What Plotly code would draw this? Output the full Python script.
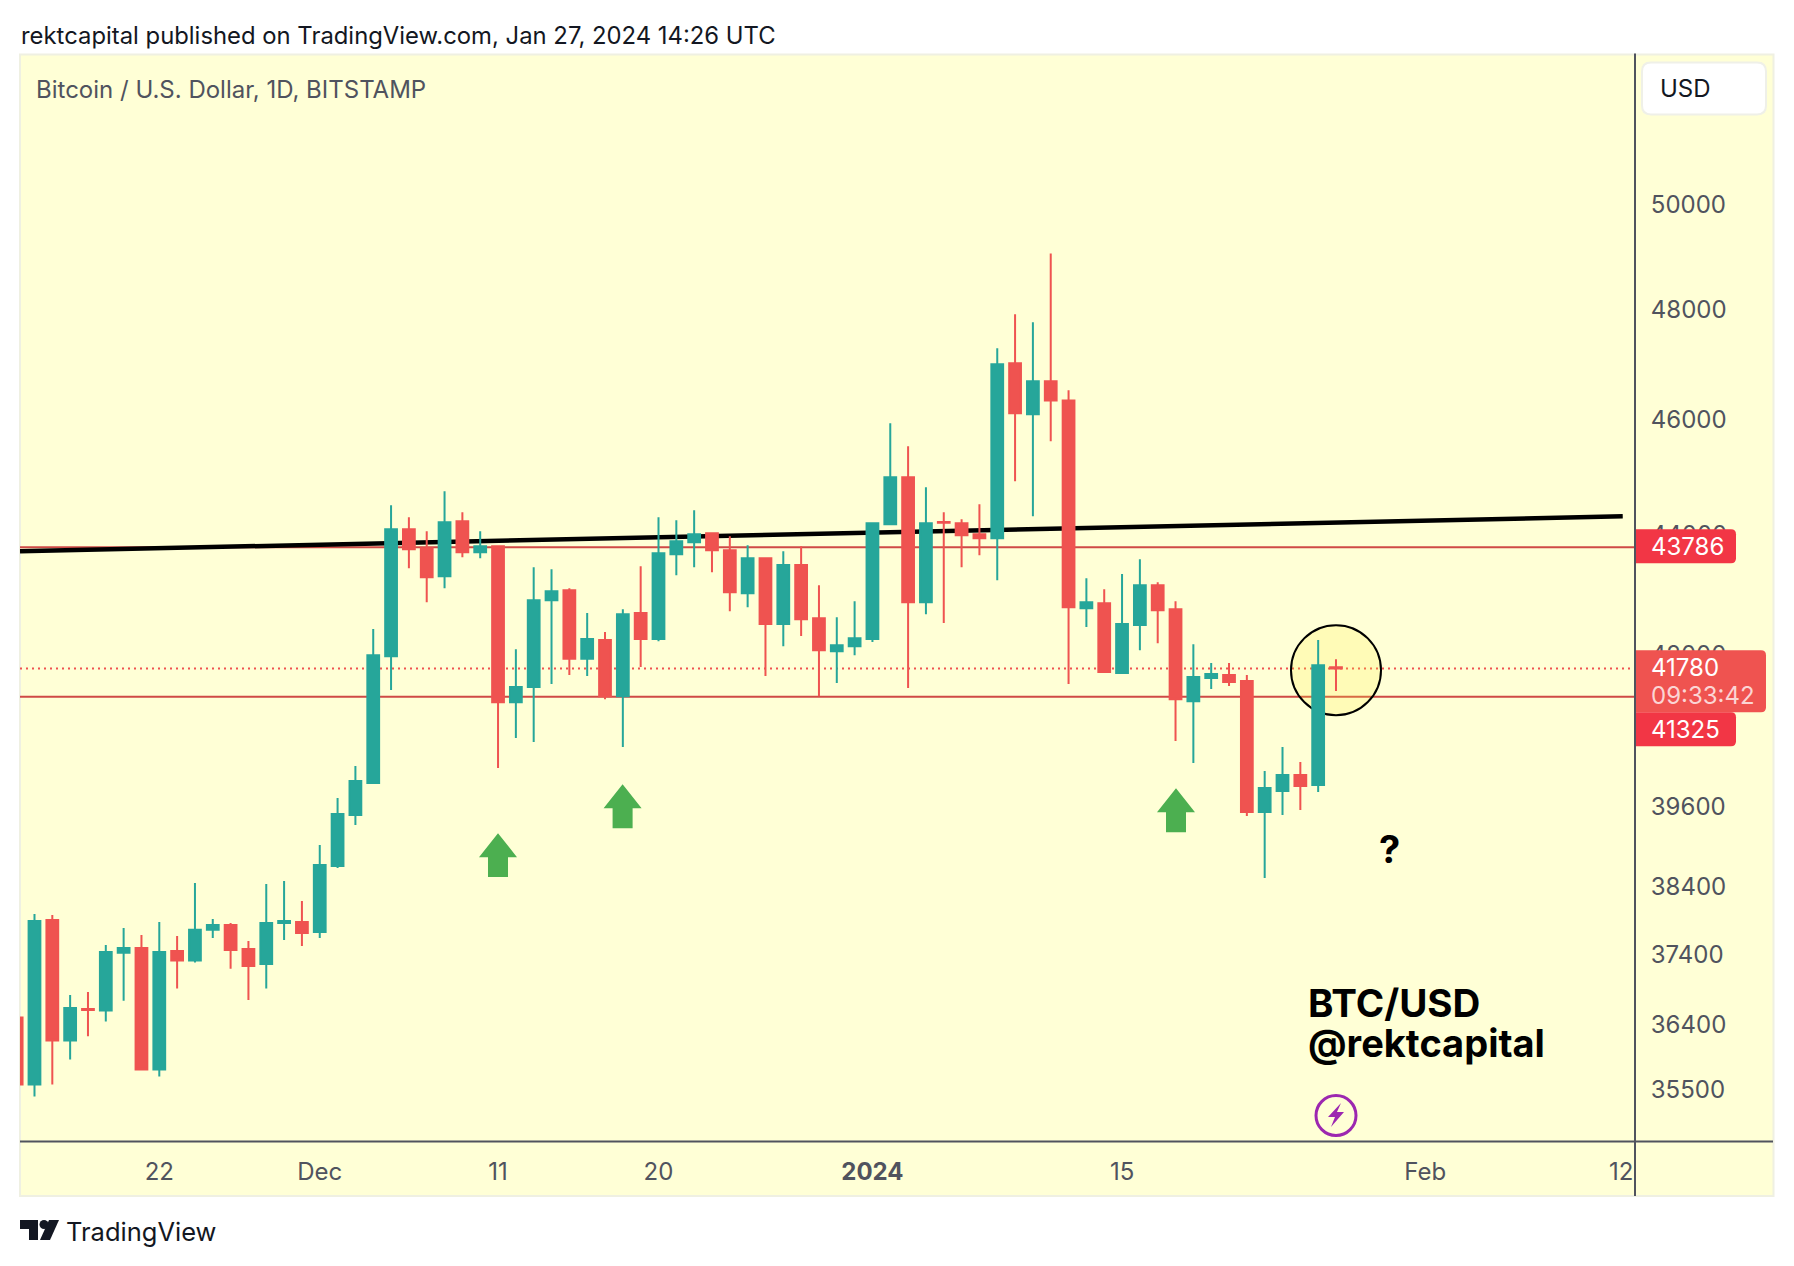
import pandas as pd
import plotly.graph_objects as go

# ---- datos de las velas (BTC/USD diario) ----
dates = pd.date_range("2023-11-14", periods=75, freq="D")

opens = [36504, 35570, 37909, 36180, 36625, 36602, 37431, 37499, 35777, 37456, 37317, 37763, 37835, 37485, 37269, 37865, 37879,
         37733, 38708, 39479, 39971, 41980, 44094, 43770, 43300, 44231, 43702, 43804, 41240, 41481, 42898, 43066, 41937, 42242,
         41336, 42685, 42258, 43669, 43872, 44026, 43736, 43015, 43602, 42504, 43485, 42602, 42061, 42143, 42258, 44180, 44989,
         42865, 44215, 44197, 44009, 43941, 47016, 46098, 46690, 46346, 42767, 42849, 41707, 42488, 43149, 42750, 41256, 41627,
         41675, 41578, 39525, 39847, 40095, 39940, 41800]
highs = [36612, 37996, 37981, 36825, 36868, 37543, 37792, 37689, 37879, 37675, 38455, 37923, 37865, 37602, 38440, 38485, 38186,
         39023, 39738, 40234, 42422, 44504, 44299, 44060, 44746, 44384, 44060, 43804, 42093, 43451, 43417, 43099, 42685, 42373,
         42750, 43468, 44299, 44248, 44418, 44043, 43975, 43821, 43619, 43719, 43804, 43149, 42619, 42882, 44214, 45938, 45530,
         44816, 44384, 44265, 44521, 47288, 47914, 47767, 49057, 46527, 43266, 43082, 43334, 43585, 43199, 42882, 42176, 41868,
         41868, 41675, 40157, 40529, 40296, 42242, 41932]
lows = [35497, 35405, 35570, 35915, 36240, 36447, 36743, 35777, 35680, 36915, 37288, 37645, 37198, 36753, 36915, 37616, 37528,
        37645, 38678, 39327, 39971, 41433, 43434, 42865, 43099, 43619, 43602, 40203, 40672, 40608, 41530, 41675, 41659, 41288,
        40529, 41803, 42225, 43317, 43451, 43367, 42717, 42783, 41659, 42143, 42307, 41336, 41546, 41997, 42209, 44180, 41465,
        42668, 42521, 43451, 43652, 43233, 44920, 44316, 45619, 41530, 42455, 41723, 41691, 42077, 42192, 40624, 40280, 41449,
        41497, 39464, 38529, 39479, 39555, 39831, 41417]
closes = [35570, 37894, 36180, 36640, 36610, 37441, 37499, 35777, 37441, 37317, 37763, 37835, 37470, 37240, 37865, 37894, 37718,
          38723, 39494, 40002, 41997, 44094, 43753, 43283, 44214, 43702, 43804, 41240, 41481, 42898, 43049, 41937, 42258, 41336,
          42668, 42258, 43686, 43889, 44009, 43736, 43032, 43602, 42504, 43485, 42586, 42077, 42159, 42274, 44197, 44989, 42865,
          44197, 44205, 43992, 43941, 46998, 46115, 46690, 46346, 42783, 42865, 41723, 42504, 43149, 42734, 41288, 41643, 41691,
          41562, 39525, 39893, 40095, 39924, 41835, 41780]

y_ticks = [50000, 48000, 46000, 44000, 42000, 39600, 38400, 37400, 36400, 35500]
x_tick_dates = ["2023-11-22", "2023-12-01", "2023-12-11", "2023-12-20", "2024-01-01", "2024-01-15", "2024-02-01", "2024-02-12"]
x_tick_text = ["22", "Dec", "11", "20", "<b>2024</b>", "15", "Feb", "12"]

level_top = 43786
level_bottom = 41325
last_price = 41780
trend_dates = ["2023-11-14 04:30", "2024-02-12 02:00"]
trend_prices = [43719, 44313]

FONT = "Inter"
GRIS = "#50535E"
NEGRO = "#131722"
ROJO_LINEA = "#CF4A46"

# area del grafico en pixeles de la imagen
L, R, T, B = 20, 1635, 53.5, 1141
BODY = 8  # margen del body de la pagina
W, H = 1794 - BODY, 1266 - BODY


def px(x):
    return (x - L) / (R - L)


def py(y):
    return 1 - (y - T) / (B - T)


def poligono(puntos, color):
    d = "M " + " L ".join(f"{px(x):.5f},{py(y):.5f}" for x, y in puntos) + " Z"
    return dict(type="path", path=d, xref="paper", yref="paper", fillcolor=color, line=dict(width=0), layer="above")


def etiqueta(x0, y0, x1, y1, color):
    # etiqueta con esquinas redondeadas a la derecha
    r = 5
    d = (f"M {px(x0):.5f},{py(y0):.5f} L {px(x1 - r):.5f},{py(y0):.5f} Q {px(x1):.5f},{py(y0):.5f} {px(x1):.5f},{py(y0 + r):.5f} "
         f"L {px(x1):.5f},{py(y1 - r):.5f} Q {px(x1):.5f},{py(y1):.5f} {px(x1 - r):.5f},{py(y1):.5f} L {px(x0):.5f},{py(y1):.5f} Z")
    return dict(type="path", path=d, xref="paper", yref="paper", fillcolor=color, line=dict(width=0), layer="above")


def caja_redonda(x0, y0, x1, y1, r):
    d = (f"M {px(x0 + r):.5f},{py(y0):.5f} L {px(x1 - r):.5f},{py(y0):.5f} Q {px(x1):.5f},{py(y0):.5f} {px(x1):.5f},{py(y0 + r):.5f} "
         f"L {px(x1):.5f},{py(y1 - r):.5f} Q {px(x1):.5f},{py(y1):.5f} {px(x1 - r):.5f},{py(y1):.5f} L {px(x0 + r):.5f},{py(y1):.5f} "
         f"Q {px(x0):.5f},{py(y1):.5f} {px(x0):.5f},{py(y1 - r):.5f} L {px(x0):.5f},{py(y0 + r):.5f} Q {px(x0):.5f},{py(y0):.5f} {px(x0 + r):.5f},{py(y0):.5f} Z")
    return dict(type="path", path=d, xref="paper", yref="paper", fillcolor="#FFFFFF", line=dict(color="#EFF0E8", width=2), layer="above")


def flecha(xc, y_tip, y_head, y_end):
    return poligono([(xc, y_tip), (xc + 19, y_head), (xc + 10, y_head), (xc + 10, y_end),
                     (xc - 10, y_end), (xc - 10, y_head), (xc - 19, y_head)], "#4CAF50")


def texto(x, y, s, size, color=GRIS, bold=False, anchor="left"):
    return dict(x=px(x), y=py(y), xref="paper", yref="paper", text=f"<b>{s}</b>" if bold else s, showarrow=False,
                xanchor=anchor, yanchor="middle", font=dict(family=FONT, size=size, color=color))


fig = go.Figure()
fig.add_trace(go.Candlestick(
    x=dates, open=opens, high=highs, low=lows, close=closes,
    increasing=dict(line=dict(color="#26A69A", width=2), fillcolor="#26A69A"),
    decreasing=dict(line=dict(color="#EF5350", width=2), fillcolor="#EF5350"),
    whiskerwidth=0, showlegend=False,
))

shapes = [
    # panel amarillo
    dict(type="rect", xref="paper", yref="paper", x0=px(20), x1=px(1773.5), y0=py(54), y1=py(1196),
         fillcolor="#FFFFD6", line=dict(color="#EFF0E2", width=2), layer="below"),
    # niveles
    dict(type="line", xref="paper", yref="y", x0=0, x1=1, y0=level_top, y1=level_top, line=dict(color=ROJO_LINEA, width=2), layer="below"),
    dict(type="line", xref="paper", yref="y", x0=0, x1=1, y0=level_bottom, y1=level_bottom, line=dict(color=ROJO_LINEA, width=2), layer="below"),
    dict(type="line", xref="paper", yref="y", x0=0, x1=1, y0=last_price, y1=last_price, line=dict(color="#EF5350", width=2, dash="2px,4px"), layer="below"),
    # linea negra
    dict(type="line", xref="x", yref="y", x0=trend_dates[0], x1=trend_dates[1], y0=trend_prices[0], y1=trend_prices[1],
         line=dict(color="#000000", width=4.5), layer="below"),
    # circulo
    dict(type="circle", xref="paper", yref="paper", x0=px(1291), x1=px(1381), y0=py(625), y1=py(715),
         fillcolor="rgba(255,235,59,0.2)", line=dict(color="#000000", width=2), layer="below"),
    # ejes
    dict(type="line", xref="paper", yref="paper", x0=px(1635), x1=px(1635), y0=py(53), y1=py(1196), line=dict(color=GRIS, width=2), layer="above"),
    dict(type="line", xref="paper", yref="paper", x0=px(20), x1=px(1773), y0=py(1141.5), y1=py(1141.5), line=dict(color=GRIS, width=2), layer="above"),
    # caja USD
    caja_redonda(1642, 62, 1766, 114, 9),
    # etiquetas de precio
    etiqueta(1636, 529, 1736, 563, "#F23645"),
    etiqueta(1636, 650, 1766, 712, "#EF5350"),
    etiqueta(1636, 712, 1736, 746, "#F23645"),
    # flechas verdes
    flecha(498, 833, 857, 877),
    flecha(622.6, 784, 808, 828),
    flecha(1176, 788, 812, 832),
    # icono rayo
    dict(type="circle", xref="paper", yref="paper", x0=px(1316), x1=px(1356), y0=py(1095.5), y1=py(1135.5),
         line=dict(color="#9C27B0", width=3), layer="above"),
    poligono([(1341, 1103), (1328, 1117), (1335, 1117), (1331, 1127), (1344, 1112), (1337, 1112)], "#9C27B0"),
    # logo TradingView
    poligono([(20, 1220), (38, 1220), (38, 1240), (29, 1240), (29, 1229), (20, 1229)], NEGRO),
    dict(type="circle", xref="paper", yref="paper", x0=px(39.5), x1=px(48.5), y0=py(1220), y1=py(1229), fillcolor=NEGRO, line=dict(width=0), layer="above"),
    poligono([(49, 1220), (59, 1220), (50, 1240), (40, 1240)], NEGRO),
]

annotations = [
    texto(18.5, 35, "rektcapital published on TradingView.com, Jan 27, 2024 14:26 UTC", 23.85, NEGRO),
    texto(33.5, 89, "Bitcoin / U.S. Dollar, 1D, BITSTAMP", 24, GRIS),
    texto(1658, 88, "USD", 24, NEGRO),
    texto(1649, 546, "43786", 24, "#FFFFFF"),
    texto(1649, 667, "41780", 24, "#FFFFFF"),
    texto(1649, 695, "09:33:42", 24, "#FBD5D4"),
    texto(1649, 729, "41325", 24, "#FFFFFF"),
    texto(1377, 849, "?", 38, "#000000", bold=True),
    texto(1306, 1003, "BTC/USD", 38.5, "#000000", bold=True),
    texto(1306, 1042.5, "@rektcapital", 38, "#000000", bold=True),
    texto(64, 1232, "TradingView", 25.5, NEGRO),
]

fig.update_layout(
    width=W, height=H,
    margin=dict(l=L - BODY, r=W - (R - BODY), t=T - BODY, b=H - (B - BODY), pad=0),
    paper_bgcolor="#FFFFFF", plot_bgcolor="rgba(0,0,0,0)",
    boxgap=0.34, boxgroupgap=0,
    showlegend=False,
    shapes=shapes, annotations=annotations,
    xaxis=dict(
        type="date", range=["2023-11-14 04:30", "2024-02-12 18:30"], rangeslider=dict(visible=False),
        showgrid=False, zeroline=False, showline=False,
        tickmode="array", tickvals=x_tick_dates, ticktext=x_tick_text,
        ticks="outside", ticklen=9, tickcolor="rgba(0,0,0,0)", tickangle=0,
        tickfont=dict(family=FONT, size=24, color=GRIS),
    ),
    yaxis=dict(
        type="log", range=[4.5416, 4.7242], side="right",
        showgrid=False, zeroline=False, showline=False,
        tickmode="array", tickvals=y_ticks, ticktext=[str(v) for v in y_ticks],
        ticks="outside", ticklen=10, tickcolor="rgba(0,0,0,0)",
        tickfont=dict(family=FONT, size=24, color=GRIS),
    ),
)

fig.write_html("out.html")
